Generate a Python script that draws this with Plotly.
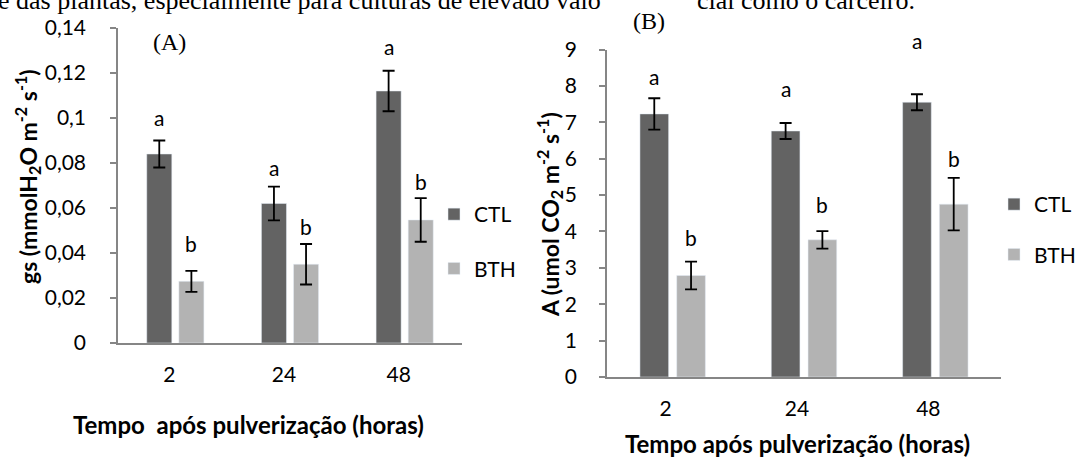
import plotly.graph_objects as go

W, H = 1078, 458

times = ["2", "24", "48"]

# Panel A: gs (mmol H2O m-2 s-1)
gs_ctl = [0.084, 0.062, 0.112]
gs_ctl_err = [0.006, 0.0075, 0.009]
gs_bth = [0.0274, 0.035, 0.0547]
gs_bth_err = [0.0047, 0.009, 0.0097]
gs_ctl_letters = ["a", "a", "a"]
gs_bth_letters = ["b", "b", "b"]
gs_ctl_letter_y = [0.1004, 0.0778, 0.1316]
gs_bth_letter_y = [0.0444, 0.0516, 0.0720]
gs_ticks = [0, 0.02, 0.04, 0.06, 0.08, 0.1, 0.12, 0.14]
gs_ticktext = ["0", "0,02", "0,04", "0,06", "0,08", "0,1", "0,12", "0,14"]

# Panel B: A (umol CO2 m-2 s-1)
a_ctl = [7.23, 6.76, 7.55]
a_ctl_err = [0.43, 0.22, 0.22]
a_bth = [2.79, 3.77, 4.75]
a_bth_err = [0.38, 0.24, 0.72]
a_ctl_letters = ["a", "a", "a"]
a_bth_letters = ["b", "b", "b"]
a_ctl_letter_y = [8.25, 7.93, 9.26]
a_bth_letter_y = [3.82, 4.73, 6.0]
a_ticks = [0, 1, 2, 3, 4, 5, 6, 7, 8, 9]
a_ticktext = [str(v) for v in a_ticks]

C_CTL = "#636363"
C_BTH = "#b3b3b3"
AX = "#868686"
FONT = "Lato"
BARGAP = 0.44
GROUPGAP = 0.22

# panel frames in pixels
A_L, A_R, A_B, A_T = 118, 462, 343, 28
B_L, B_R, B_B, B_T = 607, 1001, 377, 49.5
GS_MAX, A_MAX = 0.14, 9

def px(x):
    return x / W

def py(y):
    return 1 - y / H

xpos = list(range(len(times)))

fig = go.Figure()

def add_panel(ctl, ctl_err, bth, bth_err, xa, ya, legend):
    fig.add_trace(go.Bar(x=xpos, y=ctl, name="CTL", marker_color=C_CTL,
                         error_y=dict(type="data", array=ctl_err, color="black", thickness=1.8, width=6),
                         xaxis=xa, yaxis=ya, legend=legend, legendgroup=legend + "ctl"))
    fig.add_trace(go.Bar(x=xpos, y=bth, name="BTH", marker_color=C_BTH,
                         error_y=dict(type="data", array=bth_err, color="black", thickness=1.8, width=6),
                         xaxis=xa, yaxis=ya, legend=legend, legendgroup=legend + "bth"))

add_panel(gs_ctl, gs_ctl_err, gs_bth, gs_bth_err, "x", "y", "legend")
add_panel(a_ctl, a_ctl_err, a_bth, a_bth_err, "x2", "y2", "legend2")

slot = (1 - BARGAP) / 2
off = slot / 2
annotations = []

def letters(lets, ys, vals, errs, xr, yr, sign, ppu):
    for i, (t, yv) in enumerate(zip(lets, ys)):
        top = vals[i] + errs[i]
        annotations.append(dict(x=xpos[i] + sign * off, y=top, yshift=(yv - top) * ppu,
                                xref=xr, yref=yr, text=t,
                                showarrow=False, font=dict(family=FONT, size=21, color="black"),
                                xanchor="center", yanchor="middle"))

ppu_gs = (A_B - A_T) / GS_MAX
ppu_a = (B_B - B_T) / A_MAX
letters(gs_ctl_letters, gs_ctl_letter_y, gs_ctl, gs_ctl_err, "x", "y", -1, ppu_gs)
letters(gs_bth_letters, gs_bth_letter_y, gs_bth, gs_bth_err, "x", "y", 1, ppu_gs)
letters(a_ctl_letters, a_ctl_letter_y, a_ctl, a_ctl_err, "x2", "y2", -1, ppu_a)
letters(a_bth_letters, a_bth_letter_y, a_bth, a_bth_err, "x2", "y2", 1, ppu_a)

def note(text, x, y, size=20, bold=False, angle=0, family=FONT, xanchor="center"):
    annotations.append(dict(text=text, x=px(x), y=py(y), xref="paper", yref="paper",
                            showarrow=False, textangle=angle, xanchor=xanchor, yanchor="middle",
                            font=dict(family=family, size=size, color="black",
                                      weight="bold" if bold else "normal")))

# axis titles
note("Tempo\u00a0 após pulverização (horas)", 248, 424, size=24, bold=True)
note("Tempo após pulverização (horas)", 797, 443, size=24, bold=True)
note("gs (mmolH<sub>2</sub>O m<sup>-2</sup> s<sup>-1</sup>)", 28, 177, size=23, bold=True, angle=-90)
note("A (umol CO<sub>2</sub> m<sup>-2</sup> s<sup>-1</sup>)", 549, 215, size=23, bold=True, angle=-90)
# panel labels
note("(A)", 169, 42, size=24, family="Liberation Serif")
note("(B)", 649, 21, size=24, family="Liberation Serif")
# surrounding document text (cut off at top)
note("e das plantas, especialmente para culturas de elevado valo", -4, 0, size=26,
     family="Liberation Serif", xanchor="left")
note("cial como o carceiro.", 695, 0, size=26, family="Liberation Serif", xanchor="left")

xax = dict(showgrid=False, zeroline=False, showline=True, linecolor=AX, linewidth=1.5,
           tickmode="array", tickvals=xpos, ticktext=times, range=[-0.5, len(times) - 0.5],
           ticks="", tickfont=dict(family=FONT, size=21, color="black"), fixedrange=True,
           automargin=False)
yax = dict(showgrid=False, zeroline=False, showline=True, linecolor=AX, linewidth=1.5,
           ticks="outside", ticklen=6, tickcolor=AX, tickwidth=1.5,
           tickfont=dict(family=FONT, size=21, color="black"), fixedrange=True,
           automargin=False)

fig.update_layout(
    width=W, height=H, margin=dict(l=0, r=0, t=0, b=0, autoexpand=False),
    paper_bgcolor="white", plot_bgcolor="white",
    barmode="group", bargap=BARGAP, bargroupgap=GROUPGAP,
    xaxis=dict(xax, domain=[px(A_L), px(A_R)], anchor="y", ticklabelstandoff=12, ticklabelshift=-6),
    yaxis=dict(yax, domain=[py(A_B), py(A_T)], anchor="x", range=[0, GS_MAX],
               tickvals=gs_ticks, ticktext=gs_ticktext, ticklabelstandoff=20),
    xaxis2=dict(xax, domain=[px(B_L), px(B_R)], anchor="y2", ticklabelstandoff=12, ticklabelshift=-7),
    yaxis2=dict(yax, domain=[py(B_B), py(B_T)], anchor="x2", range=[0, A_MAX],
                tickvals=a_ticks, ticktext=a_ticktext, ticklabelstandoff=18),
    legend=dict(x=px(434), y=py(194), xanchor="left", yanchor="top", tracegroupgap=24,
                font=dict(family=FONT, size=21, color="black"), bgcolor="rgba(0,0,0,0)"),
    legend2=dict(x=px(994), y=py(184), xanchor="left", yanchor="top", tracegroupgap=20,
                 font=dict(family=FONT, size=21, color="black"), bgcolor="rgba(0,0,0,0)"),
    annotations=annotations,
    showlegend=True,
)

fig.write_html(
    "out.html",
    config={"displayModeBar": False},
    post_script="document.documentElement.style.margin='0';document.body.style.margin='0';"
                "document.body.style.padding='0';document.body.style.overflow='hidden';",
)
